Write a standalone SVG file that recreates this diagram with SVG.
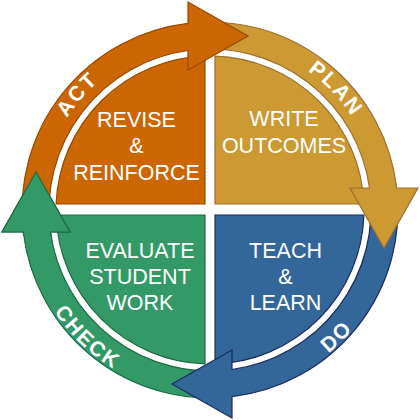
<svg xmlns="http://www.w3.org/2000/svg" xmlns:xlink="http://www.w3.org/1999/xlink" width="420" height="420" viewBox="0 0 420 420">
  <style>
    .qt { font-family: "Liberation Sans", Arial, sans-serif; font-size: 21.5px; fill: #ffffff; text-anchor: middle; }
    .al { font-family: "Liberation Sans", Arial, sans-serif; font-size: 21px; font-weight: bold; fill: #ffffff; text-anchor: middle; letter-spacing: 2px; }
    .q { stroke-width: 1.2; }
    .arw { stroke-width: 1.2; stroke-linejoin: miter; }
  </style>
  <defs>
    <path id="arrowShape" d="M 23.2,231 A 188 188 0 0 1 188,23.3 L 188,2 L 248,36 L 188,70 L 188,50.5 A 161 161 0 0 0 50.4,231 Z"/>
    <path id="topArc" d="M 40,210 A 170 170 0 0 1 380,210"/>
    <path id="botArc" d="M 24,210 A 186 186 0 0 0 396,210"/>
    <clipPath id="greenHeadClip">
      <rect x="0" y="160" width="95" height="76"/>
    </clipPath>
  </defs>
  <rect width="420" height="420" fill="#ffffff"/>

  <g id="quadrant-revise">
    <path class="q" d="M 205,204 L 205,56.1 A 154 154 0 0 0 56.1,204 Z" fill="#CC6600" stroke="#9A4800"/>
    <text class="qt" x="136.5" y="126.7">REVISE</text>
    <text class="qt" x="136.5" y="153.3">&amp;</text>
    <text class="qt" x="136.5" y="180">REINFORCE</text>
  </g>
  <g id="quadrant-write">
    <path class="q" d="M 215,204 L 215,56.1 A 154 154 0 0 1 363.9,204 Z" fill="#CC9933" stroke="#A06E30"/>
    <text class="qt" x="284" y="126.3">WRITE</text>
    <text class="qt" x="284" y="152.7">OUTCOMES</text>
  </g>
  <g id="quadrant-evaluate">
    <path class="q" d="M 205,215 L 56.1,215 A 154 154 0 0 0 205,363.9 Z" fill="#339966" stroke="#1D6B43"/>
    <text class="qt" x="140" y="257.7">EVALUATE</text>
    <text class="qt" x="140" y="284">STUDENT</text>
    <text class="qt" x="140" y="310.3">WORK</text>
  </g>
  <g id="quadrant-teach">
    <path class="q" d="M 215,215 L 363.9,215 A 154 154 0 0 1 215,363.9 Z" fill="#336699" stroke="#1A2B5C"/>
    <text class="qt" x="285.5" y="257.7">TEACH</text>
    <text class="qt" x="285.5" y="284">&amp;</text>
    <text class="qt" x="285.5" y="310.3">LEARN</text>
  </g>

  <g id="connectors">
    <g id="arrow-check">
      <use href="#arrowShape" xlink:href="#arrowShape" class="arw" fill="#339966" stroke="#1D6B43" transform="rotate(270 210 210)"/>
      <text class="al"><textPath href="#botArc" xlink:href="#botArc" startOffset="25.6%">CHECK</textPath></text>
    </g>
    <g id="arrow-do">
      <use href="#arrowShape" xlink:href="#arrowShape" class="arw" fill="#336699" stroke="#1A2B5C" transform="rotate(180 210 210)"/>
      <text class="al"><textPath href="#botArc" xlink:href="#botArc" startOffset="75%">DO</textPath></text>
    </g>
    <g id="arrow-plan">
      <use href="#arrowShape" xlink:href="#arrowShape" class="arw" fill="#CC9933" stroke="#A06E30" transform="rotate(90 210 210)"/>
      <text class="al"><textPath href="#topArc" xlink:href="#topArc" startOffset="75.6%">PLAN</textPath></text>
    </g>
    <g id="arrow-act">
      <use href="#arrowShape" xlink:href="#arrowShape" class="arw" fill="#CC6600" stroke="#9A4800"/>
      <text class="al"><textPath href="#topArc" xlink:href="#topArc" startOffset="22.8%">ACT</textPath></text>
    </g>
    <g id="arrow-check-head" clip-path="url(#greenHeadClip)">
      <use href="#arrowShape" xlink:href="#arrowShape" class="arw" fill="#339966" stroke="#1D6B43" transform="rotate(270 210 210)"/>
    </g>
  </g>
</svg>
